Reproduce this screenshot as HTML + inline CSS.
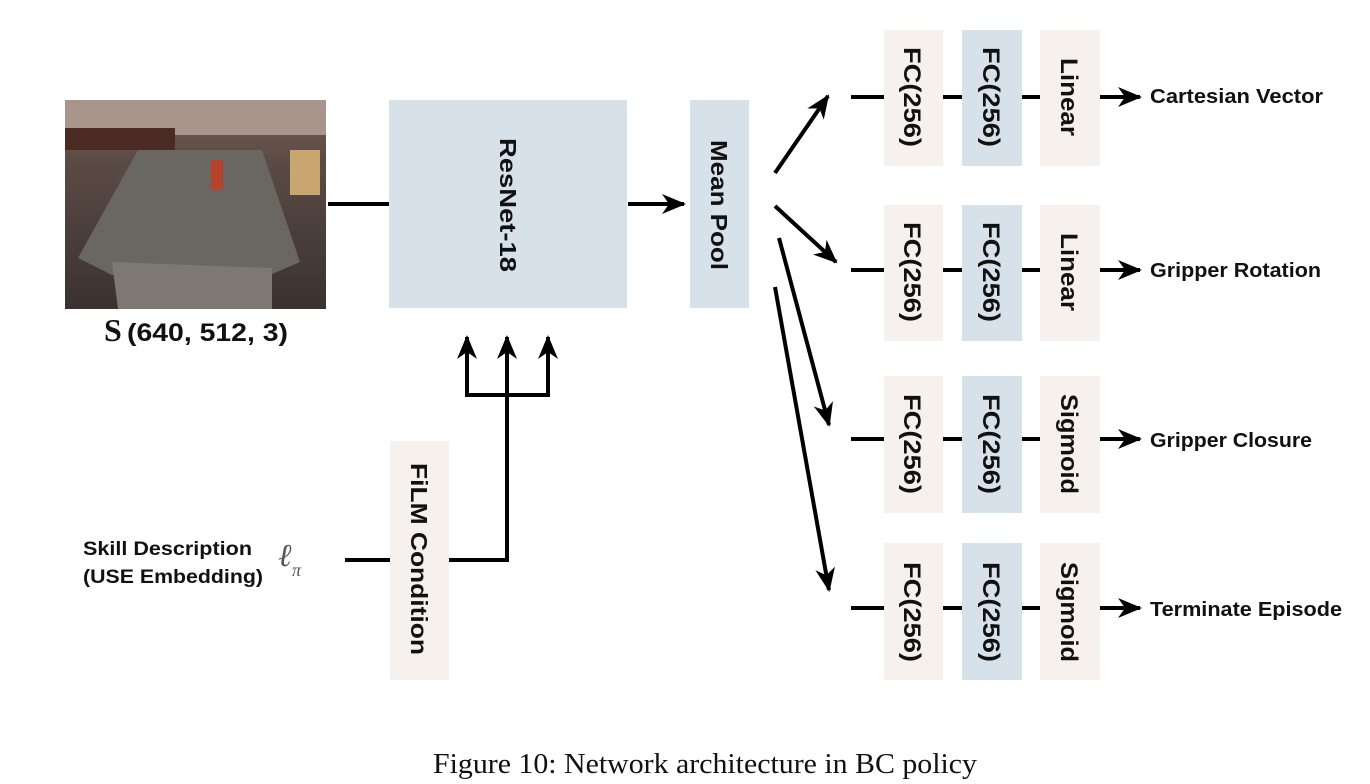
<!DOCTYPE html>
<html><head><meta charset="utf-8"><style>
html,body{margin:0;padding:0;background:#fff;}
svg{display:block}
.t{font-family:"Liberation Sans",sans-serif;font-weight:bold;fill:#111}
</style></head><body>
<svg width="1370" height="784" viewBox="0 0 1370 784" xmlns="http://www.w3.org/2000/svg">
<defs>
<marker id="ah" viewBox="0 0 24 20" refX="22" refY="10" markerWidth="24" markerHeight="20" markerUnits="userSpaceOnUse" orient="auto">
<path d="M0,0 L24,10 L0,20 L7,10 Z" fill="#000"/>
</marker>
<linearGradient id="wall" x1="0" y1="0" x2="0" y2="1">
<stop offset="0" stop-color="#7a5e55"/><stop offset="0.3" stop-color="#5a4a44"/><stop offset="1" stop-color="#3a3230"/>
</linearGradient>
</defs>
<!-- photo -->
<rect x="65" y="100" width="261" height="209" fill="url(#wall)"/>
<rect x="65" y="100" width="261" height="35" fill="#a8958c"/>
<rect x="65" y="128" width="110" height="22" fill="#4a2a22"/>
<polygon points="138,150 262,150 300,262 270,275 112,275 78,258" fill="#6a6662"/>
<polygon points="112,262 272,268 272,309 118,309" fill="#7e7873"/>
<rect x="290" y="150" width="30" height="45" fill="#c9a670"/>
<rect x="211" y="160" width="12" height="30" fill="#b5442a"/>
<!-- connections -->
<g stroke="#000" stroke-width="4" fill="none">
<line x1="328" y1="204" x2="389" y2="204"/>
<line x1="628" y1="204" x2="684" y2="204" marker-end="url(#ah)"/>
<line x1="775" y1="173" x2="828" y2="96" marker-end="url(#ah)"/>
<line x1="775" y1="206" x2="836" y2="262" marker-end="url(#ah)"/>
<line x1="779" y1="238" x2="829" y2="425" marker-end="url(#ah)"/>
<line x1="775" y1="287" x2="829" y2="590" marker-end="url(#ah)"/>
<line x1="345" y1="560" x2="390" y2="560"/>
<polyline points="449,560 507,560 507,337"/>
<polyline points="467,337 467,395 548,395 548,337"/>
<line x1="467" y1="360" x2="467" y2="337" marker-end="url(#ah)"/>
<line x1="507" y1="360" x2="507" y2="337" marker-end="url(#ah)"/>
<line x1="548" y1="360" x2="548" y2="337" marker-end="url(#ah)"/>
</g>
<!-- main boxes -->
<rect x="389" y="100" width="238" height="208" fill="#d6e1ea"/>
<rect x="690" y="100" width="59" height="208" fill="#d6e1ea"/>
<rect x="390" y="441" width="59" height="239" fill="#f6f1ec"/>
<text class="t" font-size="23" transform="translate(500,205) rotate(90)" text-anchor="middle" textLength="134" lengthAdjust="spacingAndGlyphs">ResNet-18</text>
<text class="t" font-size="23" transform="translate(711,205) rotate(90)" text-anchor="middle" textLength="130" lengthAdjust="spacingAndGlyphs">Mean Pool</text>
<text class="t" font-size="23" transform="translate(411,559) rotate(90)" text-anchor="middle" textLength="192" lengthAdjust="spacingAndGlyphs">FiLM Condition</text>
<text x="104" y="341" font-family="Liberation Serif,serif" font-size="32" font-weight="bold" fill="#111">S</text>
<text class="t" x="127" y="341" font-size="25" textLength="161" lengthAdjust="spacingAndGlyphs">(640, 512, 3)</text>
<text class="t" x="83" y="555" font-size="19" textLength="169" lengthAdjust="spacingAndGlyphs">Skill Description</text>
<text class="t" x="83" y="583" font-size="19" textLength="180" lengthAdjust="spacingAndGlyphs">(USE Embedding)</text>
<text x="278" y="566" font-family="Liberation Serif,serif" font-style="italic" font-size="32" fill="#555">ℓ</text>
<text x="292" y="576" font-family="Liberation Serif,serif" font-style="italic" font-size="18" fill="#555">π</text>
<!-- heads -->
<g stroke="#000" stroke-width="4">
<line x1="851" y1="97" x2="884" y2="97"/><line x1="943" y1="97" x2="962" y2="97"/><line x1="1022" y1="97" x2="1040" y2="97"/>
<line x1="1100" y1="97" x2="1140" y2="97" marker-end="url(#ah)"/>
<line x1="851" y1="270" x2="884" y2="270"/><line x1="943" y1="270" x2="962" y2="270"/><line x1="1022" y1="270" x2="1040" y2="270"/>
<line x1="1100" y1="270" x2="1140" y2="270" marker-end="url(#ah)"/>
<line x1="851" y1="439" x2="884" y2="439"/><line x1="943" y1="439" x2="962" y2="439"/><line x1="1022" y1="439" x2="1040" y2="439"/>
<line x1="1100" y1="439" x2="1140" y2="439" marker-end="url(#ah)"/>
<line x1="851" y1="608" x2="884" y2="608"/><line x1="943" y1="608" x2="962" y2="608"/><line x1="1022" y1="608" x2="1040" y2="608"/>
<line x1="1100" y1="608" x2="1140" y2="608" marker-end="url(#ah)"/>
</g>
<rect x="884" y="30" width="59" height="136" fill="#f6f1ec"/><rect x="962" y="30" width="60" height="136" fill="#d6e1ea"/><rect x="1040" y="30" width="60" height="136" fill="#f6f1ec"/>
<rect x="884" y="205" width="59" height="136" fill="#f6f1ec"/><rect x="962" y="205" width="60" height="136" fill="#d6e1ea"/><rect x="1040" y="205" width="60" height="136" fill="#f6f1ec"/>
<rect x="884" y="376" width="59" height="137" fill="#f6f1ec"/><rect x="962" y="376" width="60" height="137" fill="#d6e1ea"/><rect x="1040" y="376" width="60" height="137" fill="#f6f1ec"/>
<rect x="884" y="543" width="59" height="137" fill="#f6f1ec"/><rect x="962" y="543" width="60" height="137" fill="#d6e1ea"/><rect x="1040" y="543" width="60" height="137" fill="#f6f1ec"/>
<g class="t" font-size="24" text-anchor="middle">
<text transform="translate(904,97) rotate(90)" textLength="100" lengthAdjust="spacingAndGlyphs">FC(256)</text>
<text transform="translate(983,97) rotate(90)" textLength="100" lengthAdjust="spacingAndGlyphs">FC(256)</text>
<text transform="translate(1061,97) rotate(90)" textLength="78" lengthAdjust="spacingAndGlyphs">Linear</text>
<text transform="translate(904,272) rotate(90)" textLength="100" lengthAdjust="spacingAndGlyphs">FC(256)</text>
<text transform="translate(983,272) rotate(90)" textLength="100" lengthAdjust="spacingAndGlyphs">FC(256)</text>
<text transform="translate(1061,272) rotate(90)" textLength="78" lengthAdjust="spacingAndGlyphs">Linear</text>
<text transform="translate(904,444) rotate(90)" textLength="100" lengthAdjust="spacingAndGlyphs">FC(256)</text>
<text transform="translate(983,444) rotate(90)" textLength="100" lengthAdjust="spacingAndGlyphs">FC(256)</text>
<text transform="translate(1061,444) rotate(90)" textLength="100" lengthAdjust="spacingAndGlyphs">Sigmoid</text>
<text transform="translate(904,612) rotate(90)" textLength="100" lengthAdjust="spacingAndGlyphs">FC(256)</text>
<text transform="translate(983,612) rotate(90)" textLength="100" lengthAdjust="spacingAndGlyphs">FC(256)</text>
<text transform="translate(1061,612) rotate(90)" textLength="100" lengthAdjust="spacingAndGlyphs">Sigmoid</text>
</g>
<g class="t" font-size="20">
<text x="1150" y="103" textLength="173" lengthAdjust="spacingAndGlyphs">Cartesian Vector</text>
<text x="1150" y="277" textLength="171" lengthAdjust="spacingAndGlyphs">Gripper Rotation</text>
<text x="1150" y="447" textLength="162" lengthAdjust="spacingAndGlyphs">Gripper Closure</text>
<text x="1150" y="616" textLength="192" lengthAdjust="spacingAndGlyphs">Terminate Episode</text>
</g>
<text x="705" y="773" text-anchor="middle" font-family="Liberation Serif,serif" font-size="29" fill="#111" textLength="544" lengthAdjust="spacingAndGlyphs">Figure 10: Network architecture in BC policy</text>
</svg>
</body></html>
